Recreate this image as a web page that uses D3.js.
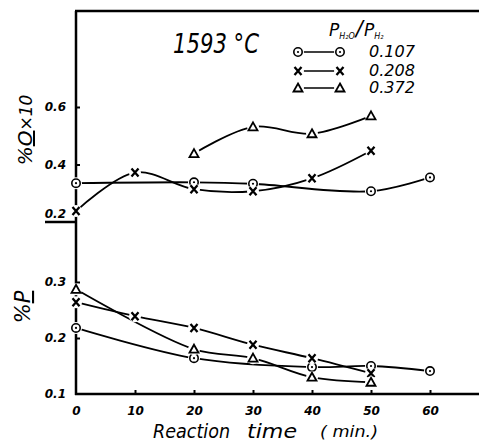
<!DOCTYPE html>
<html>
<head>
<meta charset="utf-8">
<script src="https://cdn.jsdelivr.net/npm/d3@7"></script>
<style>
    body { margin: 0; background: #fff; }
    svg { display: block; }
    .hand { font-family: 'DejaVu Sans', sans-serif; font-style: italic; fill: #000; }
    .tick text { font-family: 'DejaVu Sans', sans-serif; font-style: italic; font-weight: bold; font-size: 12px; fill: #000; }
    .tick line { stroke: #000; stroke-width: 2; }
</style>
</head>
<body>
<div id="chart"></div>
<script>
(function () {'use strict';

// Reaction time (min)
var timesO = [0, 10, 20, 30, 40, 50, 60];

// %O x 10, upper panel (null = no point)
var oxygen107 = [0.335, null, 0.338, 0.333, null, 0.307, 0.355];
var oxygen208 = [0.238, 0.372, 0.314, 0.307, 0.352, 0.448, null];
var oxygen372 = [null, null, 0.438, 0.531, 0.507, 0.569, null];

// %P, lower panel
var phos107 = [0.218, null, 0.164, null, 0.148, 0.150, 0.141];
var phos208 = [0.264, 0.239, 0.218, 0.188, 0.164, 0.137, null];
var phos372 = [0.287, null, 0.180, 0.164, 0.130, 0.121, null];

var xTicks  = [0, 10, 20, 30, 40, 50, 60];
var oTicks  = [0.2, 0.4, 0.6];
var pTicks  = [0.1, 0.2, 0.3];
var ratios  = ['0.107', '0.208', '0.372'];
var markers = ['circle', 'cross', 'triangle'];

var W = 479, H = 448;

var x  = d3.scaleLinear().domain([0, 60]).range([76, 430]),
    yO = d3.scaleLinear().domain([0.2, 0.6]).range([222, 107]),
    yP = d3.scaleLinear().domain([0.1, 0.3]).range([394, 282]);

var svg = d3.select('#chart')
    .append('svg')
        .attr('width', W)
        .attr('height', H);

/*
 * FRAME
 */
var frame = svg.append('g')
    .attr('stroke', '#000')
    .attr('stroke-width', 2.5)
    .attr('fill', 'none');

frame.append('line').attr('x1', 76).attr('x2', 76).attr('y1', 11).attr('y2', 395);
frame.append('line').attr('x1', 75).attr('x2', W).attr('y1', 11).attr('y2', 11);
frame.append('line').attr('x1', 75).attr('x2', W).attr('y1', 394).attr('y2', 394);
// break line under the upper 0.2
frame.append('line').attr('x1', 45).attr('x2', 76).attr('y1', yO(0.2)).attr('y2', yO(0.2));

/*
 * AXES
 */
var xAxis = svg.append('g')
    .attr('transform', 'translate(0,394)')
    .call(d3.axisBottom(x).tickValues(xTicks).tickSize(-4).tickPadding(12)
        .tickFormat(d3.format('d')));

var oAxis = svg.append('g')
    .attr('transform', 'translate(76,0)')
    .call(d3.axisLeft(yO).tickValues(oTicks).tickSize(-4).tickPadding(10)
        .tickFormat(d3.format('.1f')));

var pAxis = svg.append('g')
    .attr('transform', 'translate(76,0)')
    .call(d3.axisLeft(yP).tickValues(pTicks).tickSize(-4).tickPadding(10)
        .tickFormat(d3.format('.1f')));

[xAxis, oAxis, pAxis].forEach(function (a) { a.select('.domain').remove(); });
xAxis.selectAll('.tick').filter(function (d) { return d === 0; }).select('line').remove();
oAxis.selectAll('.tick').filter(function (d) { return d === 0.2; })
    .select('line').remove();
oAxis.selectAll('.tick').filter(function (d) { return d === 0.2; })
    .select('text').attr('dy', '-0.35em');
pAxis.selectAll('.tick').filter(function (d) { return d === 0.1; }).select('line').remove();

/*
 * SERIES
 */
function points(values) {
    return timesO
        .map(function (t, i) { return [t, values[i]]; })
        .filter(function (d) { return d[1] !== null; });
}

var series = [
    { y: yO, values: oxygen107, marker: 'circle' },
    { y: yO, values: oxygen208, marker: 'cross' },
    { y: yO, values: oxygen372, marker: 'triangle' },
    { y: yP, values: phos107,   marker: 'circle' },
    { y: yP, values: phos208,   marker: 'cross' },
    { y: yP, values: phos372,   marker: 'triangle' }
];

var lines = svg.append('g')
    .attr('fill', 'none')
    .attr('stroke', '#000')
    .attr('stroke-width', 1.8);

series.forEach(function (s) {
    var line = d3.line()
        .curve(d3.curveCatmullRom.alpha(0.5))
        .x(function (d) { return x(d[0]); })
        .y(function (d) { return s.y(d[1]); });
    lines.append('path').attr('d', line(points(s.values)));
});

function drawMarker(g, type, cx, cy) {
    // white halo gives the gap between line and symbol
    g.append('circle').attr('cx', cx).attr('cy', cy).attr('r', 6)
        .attr('fill', '#fff').attr('stroke', 'none');
    if (type === 'circle') {
        g.append('circle').attr('cx', cx).attr('cy', cy).attr('r', 4.2)
            .attr('fill', '#fff').attr('stroke', '#000').attr('stroke-width', 1.6);
        g.append('circle').attr('cx', cx).attr('cy', cy).attr('r', 1.1)
            .attr('fill', '#000');
    } else if (type === 'cross') {
        g.append('path')
            .attr('d', 'M' + (cx - 3.5) + ',' + (cy - 4) + 'L' + (cx + 3.5) + ',' + (cy + 4) +
                       'M' + (cx + 3.5) + ',' + (cy - 4) + 'L' + (cx - 3.5) + ',' + (cy + 4))
            .attr('stroke', '#000').attr('stroke-width', 2.3).attr('fill', 'none');
    } else {
        g.append('path')
            .attr('d', 'M' + cx + ',' + (cy - 4.5) + 'L' + (cx + 4.5) + ',' + (cy + 3.5) +
                       'L' + (cx - 4.5) + ',' + (cy + 3.5) + 'Z')
            .attr('stroke', '#000').attr('stroke-width', 1.8).attr('fill', '#fff');
    }
}

var marks = svg.append('g');
series.forEach(function (s) {
    points(s.values).forEach(function (d) {
        drawMarker(marks, s.marker, x(d[0]), s.y(d[1]));
    });
});

/*
 * LABELS
 */
svg.append('text')
    .attr('class', 'hand')
    .attr('x', 173).attr('y', 53)
    .attr('font-size', 27)
    .attr('textLength', 86).attr('lengthAdjust', 'spacingAndGlyphs')
    .text('1593 °C');

// legend title P_H2O / P_H2
var lt = svg.append('text')
    .attr('class', 'hand')
    .attr('x', 329).attr('y', 36)
    .attr('font-size', 17);
lt.append('tspan').text('P');
lt.append('tspan').attr('font-size', 8).attr('dy', 3).text('H₂O');
lt.append('tspan').attr('font-size', 21).attr('dy', -3).attr('dx', 1).text('/');
lt.append('tspan').attr('dx', 1).text('P');
lt.append('tspan').attr('font-size', 8).attr('dy', 3).text('H₂');

var legendY = [52, 71, 88];
var legend = svg.append('g');
ratios.forEach(function (r, i) {
    legend.append('line')
        .attr('x1', 298).attr('x2', 340)
        .attr('y1', legendY[i]).attr('y2', legendY[i])
        .attr('stroke', '#000').attr('stroke-width', 1.6);
    drawMarker(legend, markers[i], 298, legendY[i]);
    drawMarker(legend, markers[i], 340, legendY[i]);
    legend.append('text')
        .attr('class', 'hand')
        .attr('x', 369).attr('y', legendY[i] + 5)
        .attr('font-size', 15)
        .attr('textLength', 46).attr('lengthAdjust', 'spacingAndGlyphs')
        .text(r);
});

// y titles, with the element underlined
var yt1 = svg.append('text')
    .attr('class', 'hand')
    .attr('transform', 'translate(32,130) rotate(-90)')
    .attr('text-anchor', 'middle')
    .attr('font-size', 20);
yt1.append('tspan').text('%');
yt1.append('tspan').attr('text-decoration', 'underline').text('O');
yt1.append('tspan').attr('font-size', 17).text('×10');

var yt2 = svg.append('text')
    .attr('class', 'hand')
    .attr('transform', 'translate(30,307) rotate(-90)')
    .attr('text-anchor', 'middle')
    .attr('font-size', 21);
yt2.append('tspan').text('%');
yt2.append('tspan').attr('text-decoration', 'underline').text('P');

// x title
svg.append('text').attr('class', 'hand')
    .attr('x', 153).attr('y', 438).attr('font-size', 20)
    .attr('textLength', 77).attr('lengthAdjust', 'spacingAndGlyphs')
    .text('Reaction');
svg.append('text').attr('class', 'hand')
    .attr('x', 247).attr('y', 438).attr('font-size', 20)
    .attr('textLength', 50).attr('lengthAdjust', 'spacingAndGlyphs')
    .text('time');
svg.append('text').attr('class', 'hand')
    .attr('x', 320).attr('y', 437).attr('font-size', 15)
    .attr('textLength', 58).attr('lengthAdjust', 'spacingAndGlyphs')
    .text('( min.)');

})();
</script>
</body>
</html>
